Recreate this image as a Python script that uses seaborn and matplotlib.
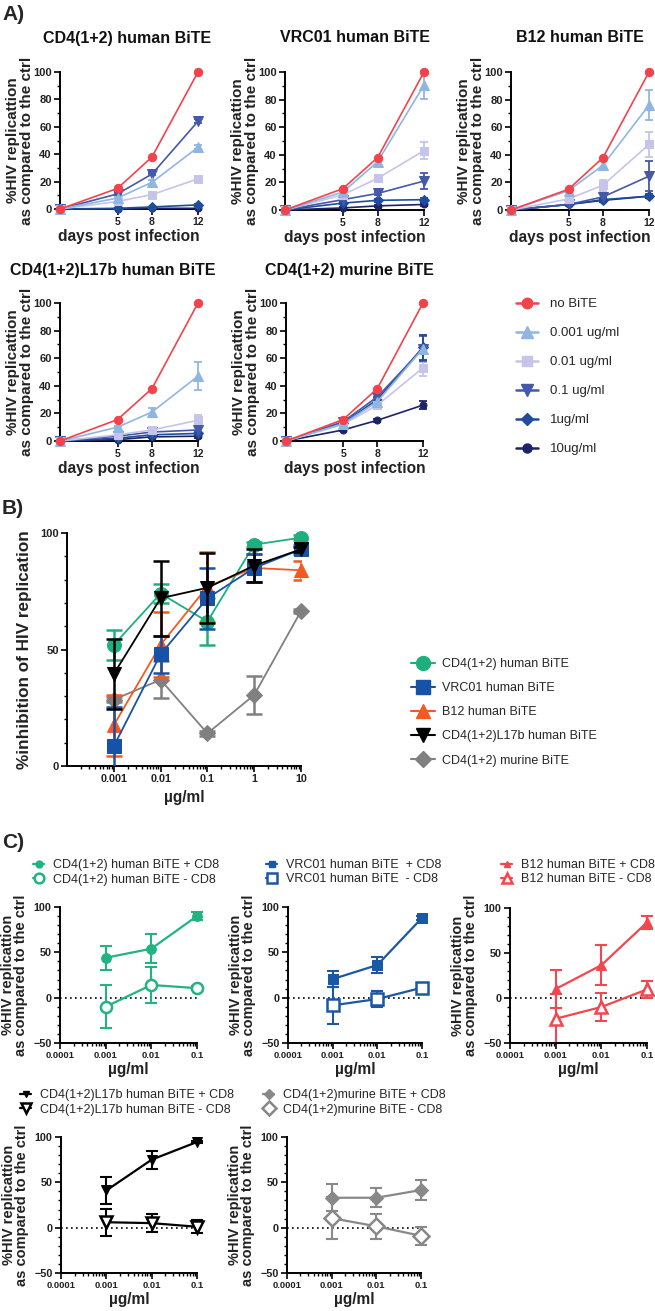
import matplotlib
matplotlib.use("Agg")
import matplotlib.pyplot as plt
import seaborn as sns
import numpy as np
import pandas as pd
from matplotlib.lines import Line2D
from matplotlib.ticker import MultipleLocator, LogLocator, NullFormatter, FixedLocator, FixedFormatter

sns.set_style("ticks")
plt.rcParams["font.family"] = ["Liberation Sans", "DejaVu Sans"]
plt.rcParams["font.weight"] = "bold"
plt.rcParams["axes.labelweight"] = "bold"

# ---------------- DATA ----------------
days = [0, 5, 8, 12]
conc_labels = ["no BiTE", "0.001 ug/ml", "0.01 ug/ml", "0.1 ug/ml", "1ug/ml", "10ug/ml"]

a_titles = ["CD4(1+2) human BiTE", "VRC01 human BiTE", "B12 human BiTE",
            "CD4(1+2)L17b human BiTE", "CD4(1+2) murine BiTE"]

cd4h_mean = [[0, 15, 38, 100], [0, 8, 19.5, 45], [0, 5.5, 10.5, 22],
             [0, 11, 25.5, 64], [0, 0.5, 1.5, 3], [0, 0, 0.5, 0.5]]
cd4h_err = [[0, 0, 0, 0], [0, 1, 2, 1.5], [0, 0.5, 1, 1],
            [0, 1, 1, 1.5], [0, 0, 0, 0.5], [0, 0, 0, 0]]

vrc01_mean = [[0, 15.5, 38, 100], [0, 13, 35, 90.5], [0, 11, 23, 43],
              [0, 7.5, 12, 21], [0, 5, 7, 7.5], [0, 1.5, 3, 4]]
vrc01_err = [[0, 0, 0, 0], [0, 1, 3, 10], [0, 1, 2, 6],
             [0, 1, 1, 5.5], [0, 1, 1, 1.5], [0, 0.5, 0.5, 1]]

b12_mean = [[0, 15, 38, 100], [0, 14, 32.5, 76], [0, 8, 18, 47.5],
            [0, 4, 9.5, 24.5], [0, 4, 7.5, 10], [0, 4, 7, 10]]
b12_err = [[0, 0, 0, 0], [0, 1, 3, 11], [0, 1, 4, 9],
           [0, 1, 2, 11], [0, 0.5, 1, 1.5], [0, 0.5, 1, 1]]

l17b_mean = [[0, 15.5, 38, 100], [0, 10, 21, 47], [0, 4.5, 8, 15],
             [0, 3.5, 6.5, 8], [0, 2, 4.5, 5.5], [0, 1, 3, 3.5]]
l17b_err = [[0, 0, 0, 0], [0, 1, 3, 10], [0, 1, 1, 4],
            [0, 0.5, 1, 2], [0, 0.5, 1, 1], [0, 0.5, 0.5, 1]]

mur_mean = [[0, 15.5, 38, 100], [0, 12.5, 28.5, 67], [0, 12, 26, 53],
            [0, 14, 32, 67], [0, 13, 30, 68], [0, 8, 15, 26]]
mur_err = [[0, 0, 0, 0], [0, 1, 2, 10], [0, 1, 2, 6],
           [0, 2, 3, 9], [0, 1, 2, 9], [0, 0.5, 1, 3]]

# Panel B
b_conc = [0.001, 0.01, 0.1, 1, 10]
b_labels = ["CD4(1+2) human BiTE", "VRC01 human BiTE", "B12 human BiTE",
            "CD4(1+2)L17b human BiTE", "CD4(1+2) murine BiTE"]
inh_cd4h = [52, 74, 62, 95, 98]
inh_cd4h_err = [6.5, 4, 10, 1, 1]
inh_vrc01 = [8.5, 48, 72, 85, 93]
inh_vrc01_err = [17, 8, 13, 6, 2]
inh_b12 = [17.5, 52, 77, 85, 84]
inh_b12_err = [13, 14, 15, 6, 4]
inh_l17b = [39.5, 72, 76.5, 86, 93]
inh_l17b_err = [15, 16, 15, 7, 1]
inh_mur = [28.5, 37, 14, 30.5, 66.5]
inh_mur_err = [1, 8, 1, 8, 1]

# Panel C
c_conc = [0.001, 0.01, 0.1]
c_names = ["CD4(1+2) human BiTE", "VRC01 human BiTE ", "B12 human BiTE",
           "CD4(1+2)L17b human BiTE", "CD4(1+2)murine BiTE"]
c1_plus = [44, 54, 90];      c1_plus_err = [13, 16, 4]
c1_minus = [-10, 14, 10.5];  c1_minus_err = [24, 20, 2]
c2_plus = [20.5, 36, 88];    c2_plus_err = [8.5, 9, 2]
c2_minus = [-8.5, -1.5, 11]; c2_minus_err = [20, 9, 3]
c3_plus = [10, 36.5, 84];    c3_plus_err = [21, 22.5, 7]
c3_minus = [-23, -10, 9.5];  c3_minus_err = [27, 16, 9.5]
c4_plus = [41, 75, 94.5];    c4_plus_err = [15, 10, 1.5]
c4_minus = [6, 5, 1];        c4_minus_err = [15, 10, 7]
c5_plus = [33, 33, 41.5];    c5_plus_err = [15, 10.5, 11]
c5_minus = [10.5, 1.5, -9];  c5_minus_err = [23, 14, 10]

# ---------------- STYLE ----------------
a_colors = ["#f2434c", "#8fb6e3", "#c6c4e8", "#4459a8", "#1f4c9c", "#1c2466"]
a_markers = ["o", "^", "s", "v", "D", "o"]
a_msizes = [6, 6.5, 6, 6.5, 5, 5]

b_colors = ["#1db07e", "#1652a8", "#f45a20", "#000000", "#808080"]
b_markers = ["o", "s", "^", "v", "D"]

c_colors = ["#22b383", "#1a58a6", "#f2474f", "#000000", "#888888"]
c_markers = ["o", "s", "^", "v", "D"]

W, H = 655, 1311
fig = plt.figure(figsize=(W / 100, H / 100), dpi=100)


def add_ax(l, r, t, b):
    return fig.add_axes([l / W, 1 - b / H, (r - l) / W, (b - t) / H])


def style_ax(ax, xs=7.5, ys=8):
    sns.despine(ax=ax)
    for s in ["left", "bottom"]:
        ax.spines[s].set_linewidth(1.4)
        ax.spines[s].set_color("black")
    ax.tick_params(which="major", length=4, width=1.2, direction="out",
                   pad=2, color="black", labelcolor="#222222")
    ax.tick_params(axis="x", labelsize=xs)
    ax.tick_params(axis="y", labelsize=ys)
    ax.tick_params(which="minor", length=2.2, width=1.0, direction="out", color="black")
    ax.grid(False)


def ylabel_two(ax, width_px, offset_px, fs, ls):
    ax.set_ylabel("%HIV replicattion\nas compared to the ctrl", fontsize=fs,
                  fontweight="bold", linespacing=ls, color="#222222")
    ax.yaxis.set_label_coords(-offset_px / width_px, 0.5)


# ---------------- PANEL A ----------------
a_boxes = [(60, 198, 72, 209), (285, 424, 72, 210), (511, 649, 72, 210),
           (60, 198, 303, 441), (286, 423, 303, 441)]
a_title_cx = [127, 355, 580, 113, 349]
a_means = [cd4h_mean, vrc01_mean, b12_mean, l17b_mean, mur_mean]
a_errs = [cd4h_err, vrc01_err, b12_err, l17b_err, mur_err]

for k, (box, means, errs) in enumerate(zip(a_boxes, a_means, a_errs)):
    l, r, t, b = box
    ax = add_ax(l, r, t, b)
    for i in reversed(range(6)):
        df = pd.DataFrame({"day": days, "val": means[i]})
        e = np.array(errs[i], dtype=float)
        m = e > 0
        if m.any():
            ax.errorbar(np.array(days)[m], np.array(means[i])[m], yerr=e[m], fmt="none",
                        ecolor=a_colors[i], elinewidth=1.3, capsize=3, capthick=1.3,
                        clip_on=False, zorder=2 + i * 0.01)
        sns.lineplot(data=df, x="day", y="val", ax=ax, color=a_colors[i],
                     marker=a_markers[i], markersize=a_msizes[i],
                     markeredgecolor=a_colors[i], linewidth=1.2, clip_on=False,
                     legend=False, errorbar=None, zorder=3 + (6 - i) * 0.1)
    ax.set_xlim(0, 12)
    ax.set_ylim(0, 100)
    ax.set_xticks([5, 8, 12])
    ax.set_yticks([0, 20, 40, 60, 80, 100])
    ax.yaxis.set_minor_locator(MultipleLocator(10))
    style_ax(ax, xs=7.5, ys=8)
    ylabel_two(ax, r - l, 26, 11, 1.0)
    ax.set_xlabel("days post infection", fontsize=11.2, fontweight="bold", color="#222222")
    ax.xaxis.set_label_coords(0.5, -20 / (b - t))
    fig.text(a_title_cx[k] / W, 1 - 38 / H if k < 3 else 1 - 270 / H, a_titles[k],
             ha="center", va="center", fontsize=11.5, fontweight="bold", color="#111111")

a_handles = [Line2D([0], [0], color=a_colors[i], marker=a_markers[i],
                    markersize=a_msizes[i] + 1.5, markeredgecolor=a_colors[i], lw=1.8)
             for i in range(6)]
fig.legend(a_handles, conc_labels, loc="upper left",
           bbox_to_anchor=(516 / W, 1 - 298 / H), bbox_transform=fig.transFigure,
           frameon=False, prop={"weight": "normal", "size": 9.5},
           labelspacing=1.27, handlelength=1.7, handletextpad=0.9,
           borderpad=0, borderaxespad=0)

fig.text(2 / W, 1 - 15 / H, "A)", ha="left", va="center", fontsize=15, fontweight="bold")

# ---------------- PANEL B ----------------
axb = add_ax(67, 301, 533, 766)
b_series = [(inh_cd4h, inh_cd4h_err), (inh_vrc01, inh_vrc01_err), (inh_b12, inh_b12_err),
            (inh_l17b, inh_l17b_err), (inh_mur, inh_mur_err)]
draw_order = [4, 0, 2, 1, 3]
b_msize = [10, 9.5, 9.5, 10, 8]
for j, i in enumerate(draw_order):
    vals, errs = b_series[i]
    axb.errorbar(b_conc, vals, yerr=errs, fmt="none", ecolor=b_colors[i],
                 elinewidth=1.8, capsize=5.5, capthick=1.8, clip_on=True, zorder=2 + j)
    df = pd.DataFrame({"c": b_conc, "v": vals})
    sns.lineplot(data=df, x="c", y="v", ax=axb, color=b_colors[i], marker=b_markers[i],
                 markersize=b_msize[i], markeredgecolor=b_colors[i], linewidth=1.3,
                 clip_on=False, legend=False, errorbar=None, zorder=2.5 + j)
axb.set_xscale("log")
axb.set_xlim(1e-4, 10)
axb.set_ylim(0, 100)
axb.xaxis.set_major_locator(FixedLocator([1e-3, 1e-2, 1e-1, 1, 10]))
axb.xaxis.set_major_formatter(FixedFormatter(["0.001", "0.01", "0.1", "1", "10"]))
axb.xaxis.set_minor_locator(LogLocator(base=10, subs=np.arange(2, 10)))
axb.xaxis.set_minor_formatter(NullFormatter())
axb.set_yticks([0, 50, 100])
axb.yaxis.set_minor_locator(MultipleLocator(10))
style_ax(axb, xs=7.8, ys=8)
axb.set_ylabel("%inhibition of HIV replication", fontsize=12.3, fontweight="bold", color="#222222")
axb.yaxis.set_label_coords(-35 / 234, 0.5)
axb.set_xlabel("µg/ml", fontsize=11.2, fontweight="bold", color="#222222")
axb.xaxis.set_label_coords(0.5, -24 / 233)

b_handles = [Line2D([0], [0], color=b_colors[i], marker=b_markers[i],
                    markersize=b_msize[i], markeredgecolor=b_colors[i], lw=1.5)
             for i in range(5)]
fig.legend(b_handles, b_labels, loc="upper left",
           bbox_to_anchor=(411 / W, 1 - 658 / H), bbox_transform=fig.transFigure,
           frameon=False, prop={"weight": "normal", "size": 9},
           labelspacing=0.97, handlelength=1.9, handletextpad=0.6,
           borderpad=0, borderaxespad=0)
fig.text(2 / W, 1 - 508 / H, "B)", ha="left", va="center", fontsize=15, fontweight="bold")

# ---------------- PANEL C ----------------
c_boxes = [(60, 197, 907, 1043), (288, 422, 907, 1043), (510, 647, 908, 1043),
           (61, 197, 1137, 1273), (287, 421, 1137, 1273)]
c_leg_pos = [(33, 859), (266, 859), (501, 859), (20, 1089), (263, 1089)]
c_plus = [(c1_plus, c1_plus_err), (c2_plus, c2_plus_err), (c3_plus, c3_plus_err),
          (c4_plus, c4_plus_err), (c5_plus, c5_plus_err)]
c_minus = [(c1_minus, c1_minus_err), (c2_minus, c2_minus_err), (c3_minus, c3_minus_err),
           (c4_minus, c4_minus_err), (c5_minus, c5_minus_err)]

for k in range(5):
    l, r, t, b = c_boxes[k]
    ax = add_ax(l, r, t, b)
    col = c_colors[k]
    mk = c_markers[k]
    ax.axhline(0, color="black", lw=1.2, ls=(0, (1, 2)), zorder=1)
    for (vals, errs), open_m in [(c_minus[k], True), (c_plus[k], False)]:
        ax.errorbar(c_conc, vals, yerr=errs, fmt="none", ecolor=col, elinewidth=1.5,
                    capsize=4, capthick=1.5, clip_on=False, zorder=2)
        df = pd.DataFrame({"c": c_conc, "v": vals})
        if open_m:
            sns.lineplot(data=df, x="c", y="v", ax=ax, color=col, marker=mk, markersize=8,
                         markerfacecolor="white", markeredgecolor=col, markeredgewidth=1.8,
                         linewidth=1.6, clip_on=False, legend=False, errorbar=None, zorder=3)
        else:
            sns.lineplot(data=df, x="c", y="v", ax=ax, color=col, marker=mk, markersize=7,
                         markeredgecolor=col, linewidth=1.6, clip_on=False, legend=False,
                         errorbar=None, zorder=3)
    ax.set_xscale("log")
    ax.set_xlim(1e-4, 0.1)
    ax.set_ylim(-50, 100)
    ax.xaxis.set_major_locator(FixedLocator([1e-4, 1e-3, 1e-2, 1e-1]))
    ax.xaxis.set_major_formatter(FixedFormatter(["0.0001", "0.001", "0.01", "0.1"]))
    ax.xaxis.set_minor_locator(LogLocator(base=10, subs=np.arange(2, 10)))
    ax.xaxis.set_minor_formatter(NullFormatter())
    ax.set_yticks([-50, 0, 50, 100])
    ax.yaxis.set_minor_locator(MultipleLocator(10))
    style_ax(ax, xs=6.8, ys=7.8)
    ylabel_two(ax, r - l, 32, 10.5, 0.95)
    ax.set_xlabel("µg/ml", fontsize=11.2, fontweight="bold", color="#222222")
    ax.xaxis.set_label_coords(0.5, -19 / (b - t))

    h_plus = Line2D([0], [0], color=col, marker=mk, markersize=5, markeredgecolor=col, lw=1.6)
    h_minus = Line2D([0], [0], color=col, marker=mk, markersize=7, markerfacecolor="white",
                     markeredgecolor=col, markeredgewidth=1.8, lw=1.6)
    lx, ly = c_leg_pos[k]
    fig.legend([h_plus, h_minus], [c_names[k] + " + CD8", c_names[k] + " - CD8"],
               loc="upper left", bbox_to_anchor=(lx / W, 1 - ly / H),
               bbox_transform=fig.transFigure, frameon=False,
               prop={"weight": "normal", "size": 9}, labelspacing=0.2,
               handlelength=0.9, handletextpad=0.7, borderpad=0, borderaxespad=0)

fig.text(2 / W, 1 - 842 / H, "C)", ha="left", va="center", fontsize=15, fontweight="bold")

fig.savefig("out.png", dpi=100)
